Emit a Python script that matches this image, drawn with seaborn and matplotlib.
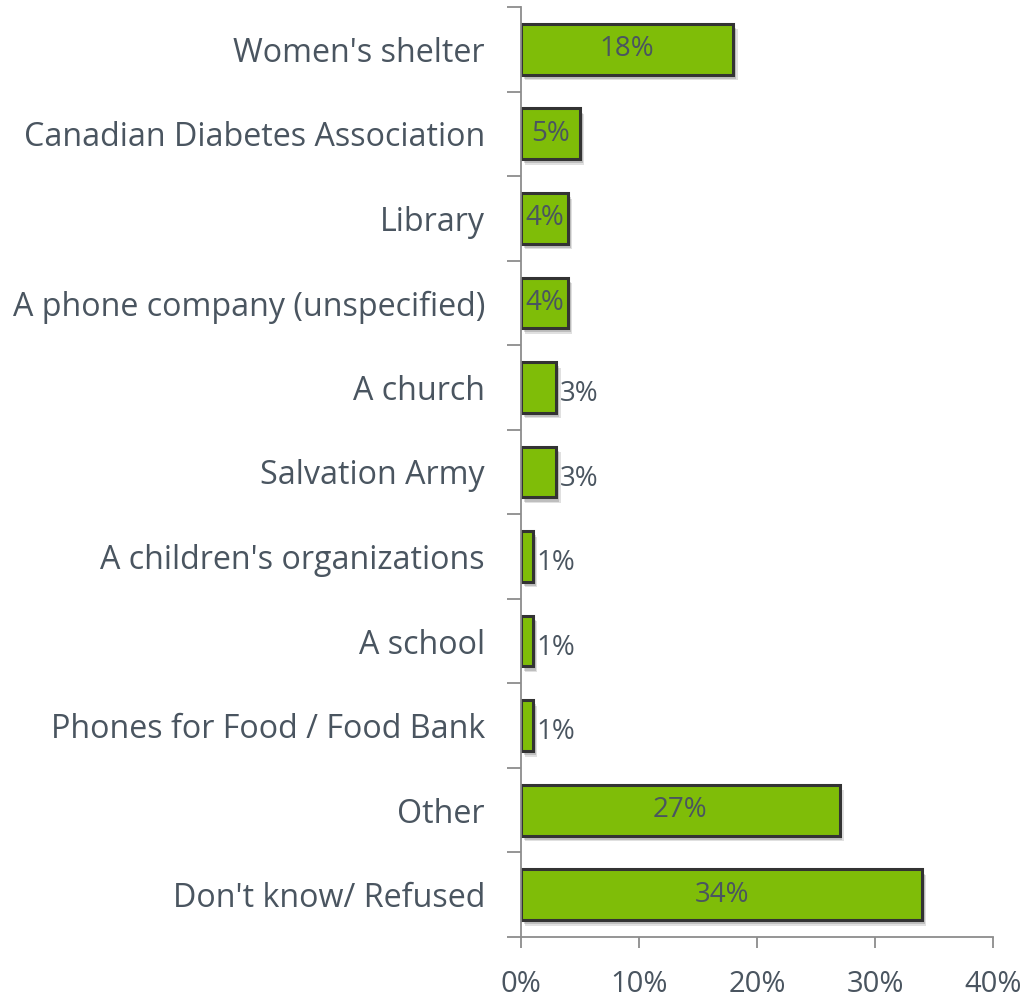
import numpy as np
import pandas as pd
import matplotlib
matplotlib.use("Agg")
import matplotlib.pyplot as plt
import matplotlib.patheffects as pe
import seaborn as sns

# data
categories = ["Women's shelter", "Canadian Diabetes Association", "Library",
              "A phone company (unspecified)", "A church", "Salvation Army",
              "A children's organizations", "A school", "Phones for Food / Food Bank",
              "Other", "Don't know/ Refused"]
values = [18, 5, 4, 4, 3, 3, 1, 1, 1, 27, 34]
inside = [True, True, True, True, False, False, False, False, False, True, True]

df = pd.DataFrame({"category": categories, "value": values})

sns.set_style("white")
plt.rcParams["font.family"] = ["Open Sans", "DejaVu Sans"]

text_col = "#4a5560"
fig = plt.figure(figsize=(10.24, 10.02), dpi=100)
ax = fig.add_axes([0.5088, 0.0649, 0.4609, 0.9281])

sns.barplot(data=df, x="value", y="category", color="#7fbd08", width=0.6,
            edgecolor="#333333", linewidth=2.2, saturation=1, ax=ax)

# soft drop shadow like the original
for p in ax.patches:
    p.set_path_effects([pe.SimplePatchShadow(offset=(3, -4), shadow_rgbFace="#000000", alpha=0.12),
                        pe.SimplePatchShadow(offset=(2, -3), shadow_rgbFace="#000000", alpha=0.15),
                        pe.Normal()])

for i, (v, ins) in enumerate(zip(values, inside)):
    if ins:
        ax.text(v / 2, i, f"{v}%", ha="center", va="center", fontsize=20, color=text_col)
    else:
        ax.text(v + 0.3, i + 0.08, f"{v}%", ha="left", va="center", fontsize=20, color=text_col)

ax.set_xlim(0, 40)
ax.set_ylim(len(categories) - 0.5, -0.5)
ax.set_xticks([0, 10, 20, 30, 40])
ax.set_xticklabels([f"{t}%" for t in [0, 10, 20, 30, 40]], fontsize=21, color=text_col)

# category labels on minor ticks, separators on major ticks
ax.set_yticks(np.arange(len(categories) + 1) - 0.5)
ax.set_yticklabels([])
ax.set_yticks(np.arange(len(categories)), minor=True)
ax.set_yticklabels(categories, minor=True, fontsize=23.2, color=text_col)
ax.tick_params(axis="y", which="major", left=True, length=10, width=1.3, color="#8c8c8c", direction="out")
ax.tick_params(axis="y", which="minor", left=True, length=0, pad=26)
ax.tick_params(axis="x", bottom=True, length=8, width=1.3, color="#8c8c8c", direction="out", pad=16)

for s in ["top", "right"]:
    ax.spines[s].set_visible(False)
for s in ["left", "bottom"]:
    ax.spines[s].set_color("#8c8c8c")
    ax.spines[s].set_linewidth(1.3)

ax.set_xlabel("")
ax.set_ylabel("")

fig.savefig("out.png", dpi=100)
